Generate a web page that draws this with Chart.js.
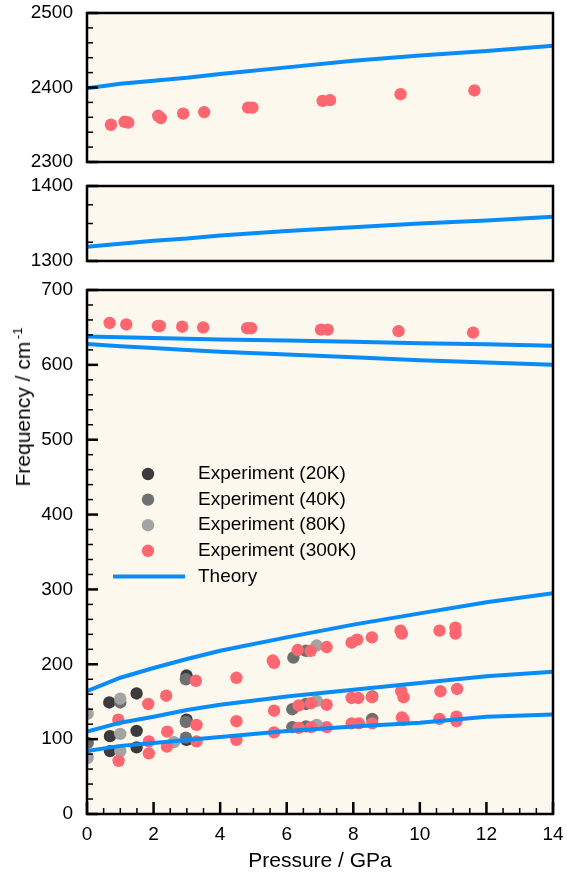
<!DOCTYPE html>
<html>
<head>
<meta charset="utf-8">
<script src="https://cdn.jsdelivr.net/npm/chart.js@4.4.1/dist/chart.umd.min.js"></script>
<style>
  body { margin: 0; background: #fff; }
  #wrap { position: relative; width: 567px; height: 875px; }
  #wrap canvas { position: absolute; left: 0; }
  #ytitle {
    position: absolute; left: 22px; top: 407px;
    transform: translate(-50%, -50%) rotate(-90deg);
    font: 21px "Liberation Sans", Arial, Helvetica, sans-serif;
    white-space: nowrap; line-height: 1; color: #000;
  }
  #ytitle span { font-size: 13px; vertical-align: 8px; }
</style>
</head>
<body>
<div id="wrap">
  <canvas id="top" width="567" height="180" style="top:0"></canvas>
  <canvas id="mid" width="567" height="110" style="top:170px"></canvas>
  <canvas id="low" width="567" height="605" style="top:270px"></canvas>
  <div id="ytitle">Frequency / cm<span>&#8201;-1</span></div>
</div>
<script>
// theory curves, all sampled on the same pressure grid (GPa)
const theoryP = [0, 1, 2, 3, 4, 6, 8, 10, 12, 14];
const theory2400 = [2399, 2405, 2409, 2413, 2418, 2427, 2436, 2443, 2449, 2456];
const theory1320 = [1319, 1323, 1327, 1330, 1334, 1340, 1345, 1350, 1354, 1359];
const theory638 = [638, 637, 636, 635, 634, 632.5, 631, 629, 627.5, 625.5];
const theory628 = [628, 625, 622.5, 620, 617.5, 614, 610, 606, 603, 600];
const theory164 = [164, 182, 195, 207, 218, 236, 253, 268, 283, 295];
const theory110 = [110, 122, 130, 139, 146, 157, 166, 175, 184, 190];
const theory84 = [84, 91, 95, 99, 103, 111, 117, 122, 130, 133];

// experiment 20K
const exp20P = [0.67, 0.69, 0.69, 1.49, 1.49, 1.49, 2.99, 2.99, 2.99];
const exp20F = [149, 104, 84, 161, 111, 89, 185, 126, 99];
// experiment 40K
const exp40P = [0.02, 1.0, 2.97, 2.97, 2.97, 6.2, 6.17, 6.17, 6.58, 6.58, 6.58, 8.57, 8.57];
const exp40F = [95, 149, 180, 123, 102, 209, 140, 116, 218, 147, 117, 157, 127];
// experiment 80K
const exp80P = [0.02, 0.02, 1.0, 1.0, 1.0, 2.61, 6.9, 6.9, 6.9];
const exp80F = [134, 75, 154, 107, 84, 96, 225, 151, 119];
// experiment 300K, high band (top panel)
const exp300HiP = [0.72, 1.13, 1.24, 2.14, 2.22, 2.89, 3.52, 4.84, 4.97, 7.08, 7.30, 9.42, 11.64];
const exp300HiF = [2350, 2354, 2353, 2362, 2359, 2365, 2367, 2373, 2373, 2382, 2383, 2391, 2396];
// experiment 300K, lower panel
const exp300P = [0.68, 1.18, 2.13, 2.19, 2.86, 3.49, 4.81, 4.93, 7.03, 7.23, 9.36, 11.6,
  0.94, 0.95, 1.84, 1.86, 1.86, 2.38, 2.41, 2.40, 3.27, 3.29, 3.29,
  4.49, 4.49, 4.49, 5.58, 5.62, 5.62, 5.62,
  6.33, 6.72, 7.2, 6.36, 6.73, 7.2, 6.36, 6.74, 7.2,
  7.95, 8.12, 8.56, 9.42, 9.46, 10.59, 11.07, 11.07,
  7.95, 8.15, 8.56, 9.44, 9.51, 10.62, 11.12,
  7.95, 8.17, 8.57, 9.46, 9.51, 10.59, 11.1, 11.1];
const exp300F = [656, 654, 652, 652, 651, 650, 649, 649, 647, 647, 645, 643,
  126, 71, 147, 97, 81, 158, 110, 90, 178, 119, 97,
  182, 124, 99, 205, 202, 138, 109,
  219, 218, 223, 145, 148, 146, 115, 116, 116,
  229, 233, 236, 245, 241, 245, 249, 241,
  155, 155, 156, 164, 156, 164, 167,
  121, 121, 121, 129, 126, 127, 130, 124];

const BG = '#fdf8ed';
const BLUE = '#0a8cf8';
const FONT = '"Liberation Sans", Arial, Helvetica, sans-serif';
const COLOURS = { k20: '#3b3b3b', k40: '#6f6f6f', k80: '#a3a3a3', k300: '#fe6670' };

Chart.defaults.font.family = FONT;
Chart.defaults.font.size = 19;
Chart.defaults.color = '#000';

function pts(xs, ys) {
  return xs.map(function (x, i) { return { x: x, y: ys[i] }; });
}

function expSet(label, colour, xs, ys, order) {
  return {
    label: label, data: pts(xs, ys),
    backgroundColor: colour, borderWidth: 0,
    pointRadius: 6.2, pointHoverRadius: 6.2,
    order: order, clip: 0
  };
}

function theorySet(ys) {
  return {
    label: 'Theory', data: pts(theoryP, ys),
    showLine: true, borderColor: BLUE, borderWidth: 4,
    pointRadius: 0, tension: 0, order: 0, clip: 0
  };
}

function isMultiple(v, step) {
  return Math.abs(v / step - Math.round(v / step)) < 1e-6;
}

// cream panel, black frame and inward ticks
const framePlugin = {
  id: 'frame',
  beforeDraw: function (chart) {
    const a = chart.chartArea, ctx = chart.ctx;
    ctx.save();
    ctx.fillStyle = BG;
    ctx.fillRect(a.left, a.top, a.right - a.left, a.bottom - a.top);
    ctx.restore();
  },
  afterDraw: function (chart, args, opts) {
    const a = chart.chartArea, ctx = chart.ctx;
    ctx.save();
    ctx.strokeStyle = '#000';
    const ys = chart.scales.y;
    ys.ticks.forEach(function (t) {
      const py = ys.getPixelForValue(t.value);
      const major = isMultiple(t.value, opts.yMajor);
      ctx.lineWidth = major ? 2.5 : 1.5;
      ctx.beginPath();
      ctx.moveTo(a.left, py);
      ctx.lineTo(a.left + (major ? 11 : 6), py);
      ctx.stroke();
    });
    if (opts.xTicks) {
      const xs = chart.scales.x;
      xs.ticks.forEach(function (t) {
        const px = xs.getPixelForValue(t.value);
        const major = isMultiple(t.value, 2);
        ctx.lineWidth = major ? 2.5 : 1.5;
        ctx.beginPath();
        ctx.moveTo(px, a.bottom);
        ctx.lineTo(px, a.bottom - (major ? 12 : 6));
        ctx.stroke();
      });
    }
    ctx.lineWidth = 2.5;
    ctx.strokeRect(a.left, a.top, a.right - a.left, a.bottom - a.top);
    ctx.restore();
  }
};

// legend drawn inside the lower panel
const legendPlugin = {
  id: 'insideLegend',
  afterDraw: function (chart, args, opts) {
    if (!opts.items) return;
    const ctx = chart.ctx;
    ctx.save();
    ctx.font = '19px ' + FONT;
    ctx.textBaseline = 'middle';
    opts.items.forEach(function (label, i) {
      const ds = chart.data.datasets.find(function (d) { return d.label === label; });
      const y = opts.y + i * opts.gap;
      if (ds.showLine) {
        ctx.strokeStyle = ds.borderColor;
        ctx.lineWidth = ds.borderWidth;
        ctx.beginPath();
        ctx.moveTo(opts.lineFrom, y);
        ctx.lineTo(opts.lineTo, y);
        ctx.stroke();
      } else {
        ctx.fillStyle = ds.backgroundColor;
        ctx.beginPath();
        ctx.arc(opts.markX, y, ds.pointRadius, 0, Math.PI * 2);
        ctx.fill();
      }
      ctx.fillStyle = '#000';
      ctx.fillText(label, opts.textX, y);
    });
    ctx.restore();
  }
};

// invisible tick marks push the labels away from the frame
// without adding to the layout padding the way ticks.padding does
function hiddenTicks(len) {
  return { display: true, drawOnChartArea: false, drawTicks: true, tickLength: len, tickColor: 'rgba(0,0,0,0)' };
}

function yScale(min, max, step, major) {
  return {
    type: 'linear', min: min, max: max,
    ticks: {
      stepSize: step, autoSkip: false, padding: 0,
      callback: function (v) { return isMultiple(v, major) ? String(v) : ''; }
    },
    grid: hiddenTicks(14),
    border: { display: false },
    afterFit: function (s) { s.width = 87; }
  };
}

function panel(id, datasets, y, padding, x, extra) {
  return new Chart(document.getElementById(id).getContext('2d'), {
    type: 'scatter',
    data: { datasets: datasets },
    options: {
      responsive: false,
      animation: false,
      layout: { padding: padding },
      scales: { x: x, y: y },
      plugins: Object.assign({
        legend: { display: false },
        tooltip: { enabled: false }
      }, extra)
    },
    plugins: [framePlugin, legendPlugin]
  });
}

const hiddenX = { type: 'linear', min: 0, max: 14, display: false };

panel('top', [
  theorySet(theory2400),
  expSet('Experiment (300K)', COLOURS.k300, exp300HiP, exp300HiF, 1)
], yScale(2300, 2500, 20, 100), { top: 13, right: 14, bottom: 18, left: 0 }, hiddenX,
  { frame: { yMajor: 100, xTicks: false } });

panel('mid', [
  theorySet(theory1320)
], yScale(1300, 1400, 25, 100), { top: 16, right: 14, bottom: 19, left: 0 }, hiddenX,
  { frame: { yMajor: 100, xTicks: false } });

panel('low', [
  theorySet(theory638),
  theorySet(theory628),
  theorySet(theory164),
  theorySet(theory110),
  theorySet(theory84),
  expSet('Experiment (20K)', COLOURS.k20, exp20P, exp20F, 4),
  expSet('Experiment (40K)', COLOURS.k40, exp40P, exp40F, 3),
  expSet('Experiment (80K)', COLOURS.k80, exp80P, exp80F, 2),
  expSet('Experiment (300K)', COLOURS.k300, exp300P, exp300F, 1)
], yScale(0, 700, 20, 100), { top: 20, right: 14, bottom: 0, left: 0 }, {
  type: 'linear', min: 0, max: 14,
  ticks: {
    stepSize: 0.5, autoSkip: false, maxRotation: 0, padding: 0,
    callback: function (v) { return isMultiple(v, 2) ? String(v) : ''; }
  },
  grid: hiddenTicks(9),
  border: { display: false },
  title: { display: true, text: 'Pressure / GPa', font: { size: 21 }, padding: { top: 0, bottom: 1 } },
  afterFit: function (s) { s.height = 61; }
}, {
  frame: { yMajor: 100, xTicks: true },
  insideLegend: {
    items: ['Experiment (20K)', 'Experiment (40K)', 'Experiment (80K)', 'Experiment (300K)', 'Theory'],
    y: 204, gap: 25.6, markX: 148, textX: 198, lineFrom: 113, lineTo: 185
  }
});
</script>
</body>
</html>
